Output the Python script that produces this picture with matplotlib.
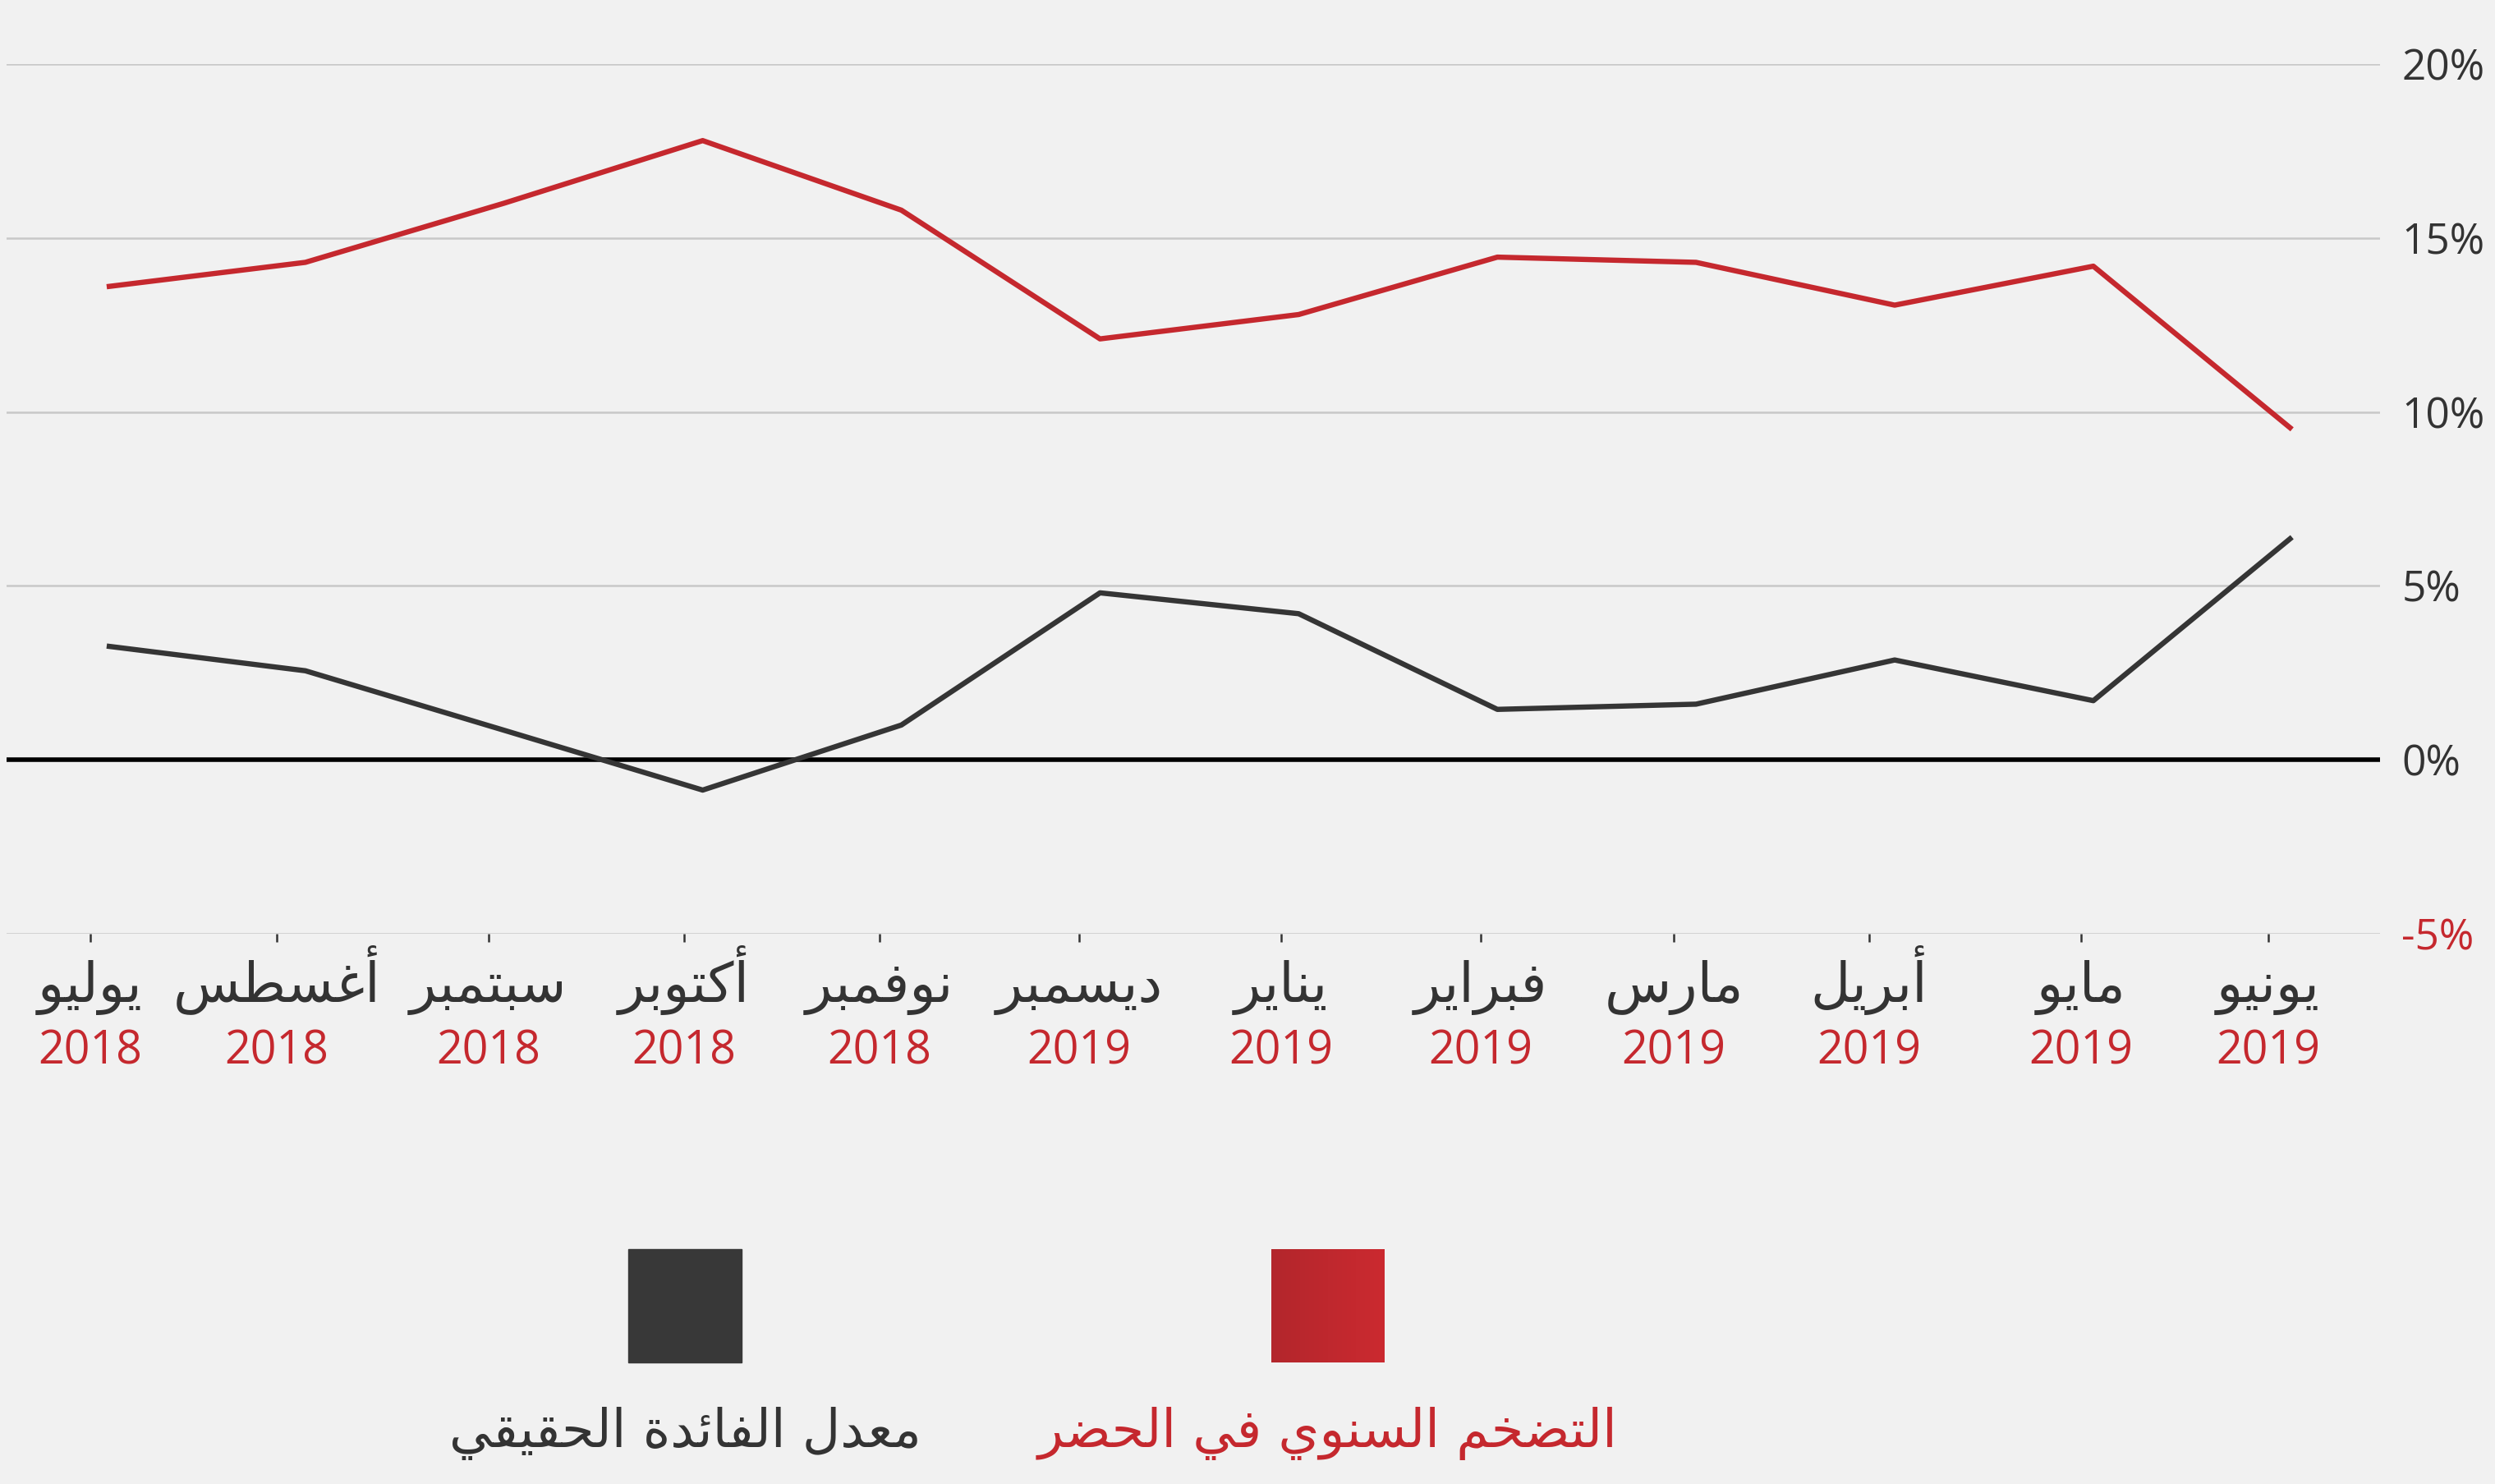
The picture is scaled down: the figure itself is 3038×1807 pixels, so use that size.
import matplotlib
matplotlib.use("Agg")

import matplotlib.pyplot as plt
from matplotlib.colors import LinearSegmentedColormap
from matplotlib.patches import Rectangle
import numpy as np

plt.rcParams["font.family"] = ["Open Sans", "DejaVu Sans"]

# ---------- Data ----------
months = ["يوليو", "أغسطس", "سبتمبر", "أكتوبر", "نوفمبر", "ديسمبر",
          "يناير", "فبراير", "مارس", "أبريل", "مايو", "يونيو"]
years = ["2018", "2018", "2018", "2018", "2018", "2019",
         "2019", "2019", "2019", "2019", "2019", "2019"]
inflation = [13.6, 14.3, 16.0, 17.8, 15.8, 12.1, 12.8, 14.45, 14.3, 13.07, 14.19, 9.5]
real_rate = [3.27, 2.56, 0.85, -0.87, 1.0, 4.8, 4.2, 1.45, 1.6, 2.87, 1.7, 6.4]
y_ticks = [-5, 0, 5, 10, 15, 20]
label_inflation = "التضخم السنوي في الحضر"
label_real = "معدل الفائدة الحقيقي"

# tick marks sit under the centre of each label, not exactly on the points
tick_offsets = [-0.083, -0.144, -0.078, -0.094, -0.110, -0.105,
                -0.088, -0.084, -0.112, -0.128, -0.062, -0.119]

# ---------- Colours ----------
BG = "#f1f1f1"
RED = "#c5282e"
DARK = "#353535"
GRID = "#c8c8c8"


# ---------- Minimal Arabic shaping (matplotlib has no bidi / joining) ----------
# isolated, final, initial, medial
FORMS = {
    "ا": (0xFE8D, 0xFE8E, None, None),
    "أ": (0xFE83, 0xFE84, None, None),
    "ب": (0xFE8F, 0xFE90, 0xFE91, 0xFE92),
    "ة": (0xFE93, 0xFE94, None, None),
    "ت": (0xFE95, 0xFE96, 0xFE97, 0xFE98),
    "ح": (0xFEA1, 0xFEA2, 0xFEA3, 0xFEA4),
    "خ": (0xFEA5, 0xFEA6, 0xFEA7, 0xFEA8),
    "د": (0xFEA9, 0xFEAA, None, None),
    "ر": (0xFEAD, 0xFEAE, None, None),
    "س": (0xFEB1, 0xFEB2, 0xFEB3, 0xFEB4),
    "ض": (0xFEBD, 0xFEBE, 0xFEBF, 0xFEC0),
    "ط": (0xFEC1, 0xFEC2, 0xFEC3, 0xFEC4),
    "ع": (0xFEC9, 0xFECA, 0xFECB, 0xFECC),
    "غ": (0xFECD, 0xFECE, 0xFECF, 0xFED0),
    "ف": (0xFED1, 0xFED2, 0xFED3, 0xFED4),
    "ق": (0xFED5, 0xFED6, 0xFED7, 0xFED8),
    "ك": (0xFED9, 0xFEDA, 0xFEDB, 0xFEDC),
    "ل": (0xFEDD, 0xFEDE, 0xFEDF, 0xFEE0),
    "م": (0xFEE1, 0xFEE2, 0xFEE3, 0xFEE4),
    "ن": (0xFEE5, 0xFEE6, 0xFEE7, 0xFEE8),
    "و": (0xFEED, 0xFEEE, None, None),
    "ي": (0xFEF1, 0xFEF2, 0xFEF3, 0xFEF4),
    "ئ": (0xFE89, 0xFE8A, 0xFE8B, 0xFE8C),
}


def ar(text):
    out = []
    for i, c in enumerate(text):
        if c not in FORMS:
            out.append(c)
            continue
        prev = text[i - 1] if i > 0 else ""
        nxt = text[i + 1] if i + 1 < len(text) else ""
        iso, fin, ini, med = FORMS[c]
        j_prev = prev in FORMS and FORMS[prev][2] is not None
        j_next = nxt in FORMS and ini is not None
        if j_prev and j_next:
            g = med
        elif j_prev:
            g = fin
        elif j_next:
            g = ini
        else:
            g = iso
        out.append(chr(g))
    return "".join(reversed(out))


# ---------- Figure ----------
W, H = 3038, 1807
fig = plt.figure(figsize=(W / 100, H / 100), dpi=100, facecolor=BG)

ax_l, ax_r, ax_t, ax_b = 8, 2898, 78, 1137
ax = fig.add_axes([ax_l / W, 1 - ax_b / H, (ax_r - ax_l) / W, (ax_b - ax_t) / H])
ax.set_facecolor(BG)

x = np.arange(len(months))
ax.plot(x, inflation, color=RED, lw=4.6, solid_capstyle="butt", zorder=4)
ax.plot(x, real_rate, color=DARK, lw=4.6, solid_capstyle="butt", zorder=4)
ax.axhline(0, color="black", lw=4.0, zorder=3)

ax.set_xlim(-0.504, 11.443)
ax.set_ylim(-5, 20)
for s in ax.spines.values():
    s.set_visible(False)

ax.set_yticks(y_ticks)
ax.set_yticklabels([f"{v}%" for v in y_ticks])
ax.yaxis.tick_right()
ax.tick_params(axis="y", length=0, pad=19, labelsize=37, labelcolor="#333333")
ax.get_yticklabels()[0].set_color(RED)
ax.grid(axis="y", color=GRID, lw=1.8, zorder=1)

tick_x = x + np.array(tick_offsets)
ax.set_xticks(tick_x)
ax.set_xticklabels([])
ax.tick_params(axis="x", length=7.5, width=1.8, color="#333333", direction="out")

trans = ax.get_xaxis_transform()
for tx, m, yr in zip(tick_x, months, years):
    ax.text(tx, -0.078, ar(m), transform=trans, ha="center", va="baseline",
            fontsize=48, color="#333333", family="DejaVu Sans")
    ax.text(tx, -0.150, yr, transform=trans, ha="center", va="baseline",
            fontsize=40, color=RED)

# ---------- Legend ----------
leg = fig.add_axes([0, 0, 1, 1], zorder=-1)
leg.axis("off")

leg.add_patch(Rectangle((765, 1521), 138, 138, color="#383838"))
grad = LinearSegmentedColormap.from_list("g", ["#b3262c", "#cb2a30"])
leg.imshow(np.linspace(0, 1, 64).reshape(1, -1), cmap=grad, aspect="auto",
           extent=[1548, 1686, 1659, 1521])
leg.set_xlim(0, W)
leg.set_ylim(H, 0)

leg.text(834, 1762, ar(label_real), ha="center", va="baseline",
         fontsize=46, color="#333333", family="DejaVu Sans")
leg.text(1617, 1762, ar(label_inflation), ha="center", va="baseline",
         fontsize=46, color=RED, family="DejaVu Sans")

fig.savefig("out.png", dpi=100, facecolor=BG)
